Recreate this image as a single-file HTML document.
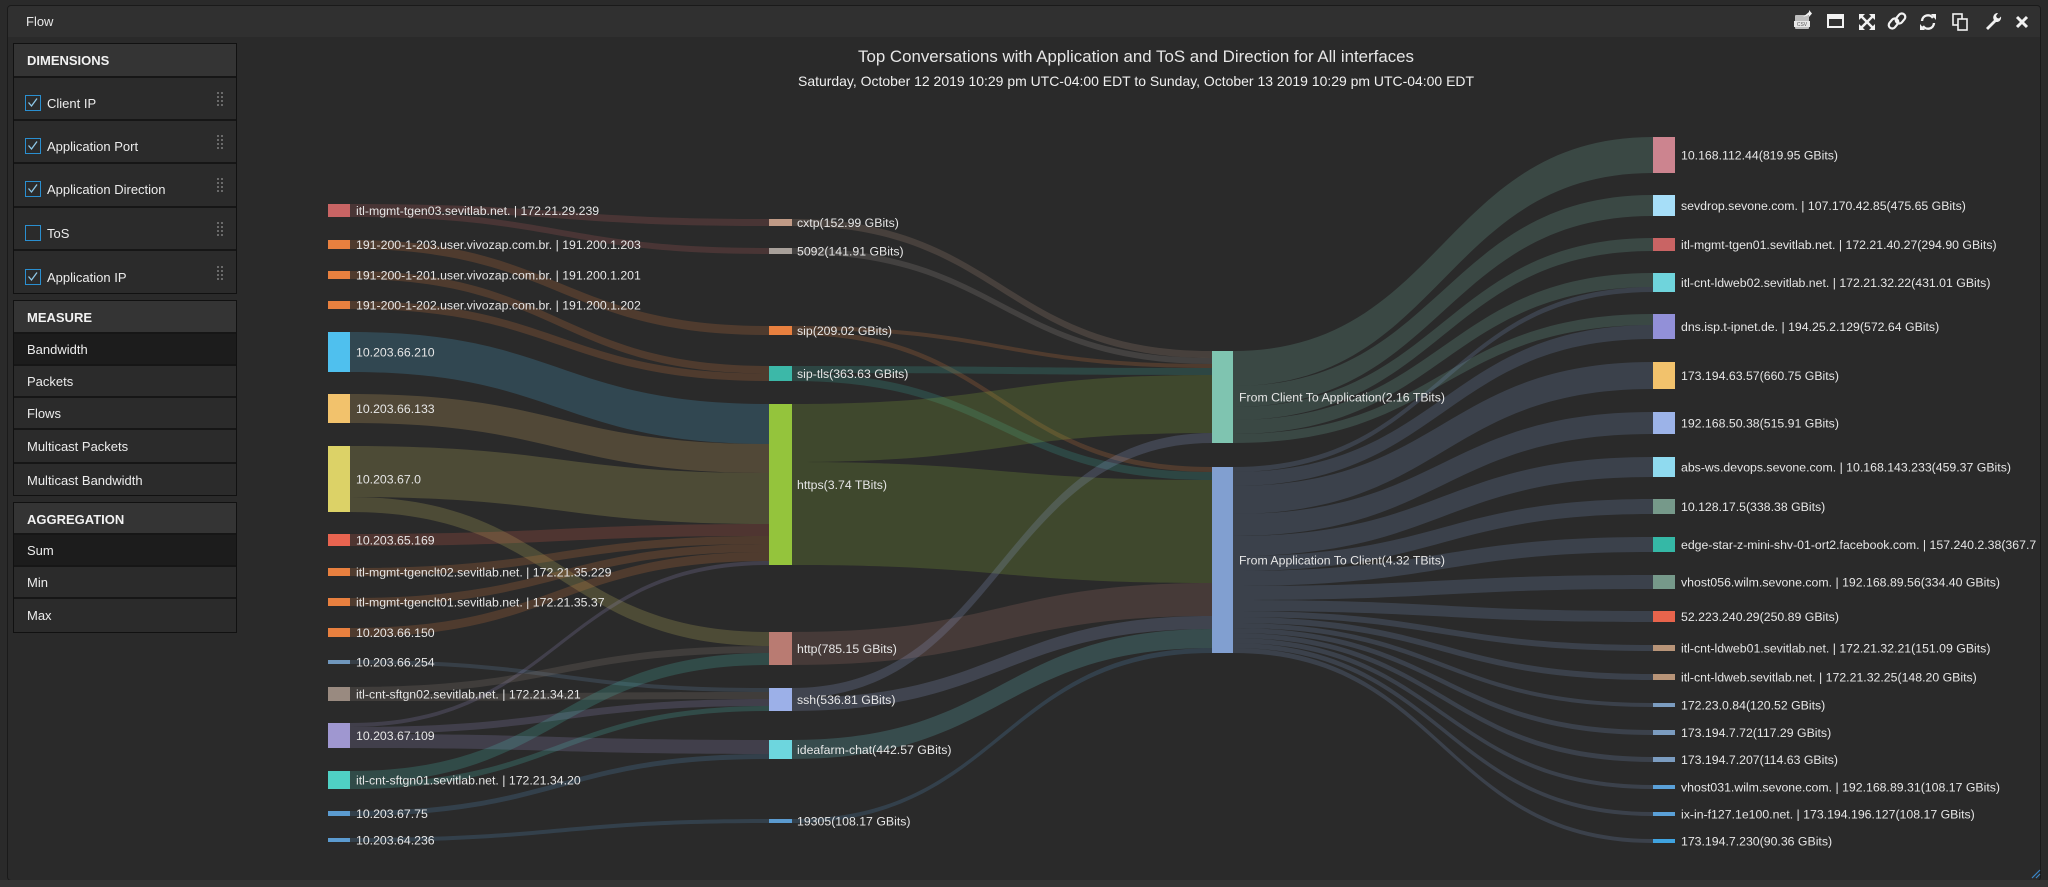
<!DOCTYPE html>
<html>
<head>
<meta charset="utf-8">
<style>
  html,body{margin:0;padding:0;}
  body{width:2048px;height:887px;background:#2a2a2a;position:relative;overflow:hidden;font-family:"Liberation Sans",sans-serif;}
  *{box-sizing:border-box;}
  .panel{position:absolute;left:7px;top:5px;width:2034px;height:876px;border:1px solid #1a1a1a;border-radius:4px;background:#2a2a2a;overflow:hidden;}
  .hdr{position:absolute;left:0;top:0;width:2032px;height:31px;background:#303030;}
  .hdr span{position:absolute;left:18px;top:8px;font-size:13px;color:#e8e8e8;}
  .foot{position:absolute;left:0;top:880px;width:2048px;height:7px;background:#343434;}
  .box{position:absolute;left:13px;width:224px;border:1px solid #111;background:#2b2b2b;overflow:hidden;}
  .bh{position:absolute;left:0;width:222px;background:#343434;color:#f2f2f2;font-weight:bold;font-size:13px;}
  .bh span{position:absolute;left:13px;}
  .row{position:absolute;left:0;width:222px;background:#2b2b2b;border-top:2px solid #161616;color:#ececec;font-size:13px;}
  .row.sel{background:#1c1c1c;}
  .row span{position:absolute;left:13px;}
  .cb{position:absolute;left:11px;width:16px;height:16px;border:1.5px solid #2a8fd0;}
  .cb svg{position:absolute;left:0;top:0;}
  .dr{position:absolute;left:203px;width:6px;height:14px;}
  .dr i{position:absolute;width:1.6px;height:1.6px;background:#6a6a6a;}
  svg text{font-family:"Liberation Sans",sans-serif;}
</style>
</head>
<body>
<div class="panel">
  <div class="hdr"><span>Flow</span></div>
</div>
<div class="foot"></div>

<!-- DIMENSIONS -->
<div class="box" style="top:43px;height:251px;">
  <div class="bh" style="top:0;height:32px;"><span style="top:9px;">DIMENSIONS</span></div>
  <div class="row" style="top:32px;height:43px;">
    <div class="cb" style="top:17px;"><svg width="13" height="13"><path d="M2.5 6.5 L5.5 10 L11 2.5" stroke="#8fc8e8" stroke-width="1.3" fill="none"/></svg></div>
    <span style="left:33px;top:18px;">Client IP</span>
    <div class="dr" style="top:14px;"><i style="left:0;top:0"></i><i style="left:4px;top:0"></i><i style="left:0;top:4px"></i><i style="left:4px;top:4px"></i><i style="left:0;top:8px"></i><i style="left:4px;top:8px"></i><i style="left:0;top:12px"></i><i style="left:4px;top:12px"></i></div>
  </div>
  <div class="row" style="top:75px;height:43px;">
    <div class="cb" style="top:17px;"><svg width="13" height="13"><path d="M2.5 6.5 L5.5 10 L11 2.5" stroke="#8fc8e8" stroke-width="1.3" fill="none"/></svg></div>
    <span style="left:33px;top:18px;">Application Port</span>
    <div class="dr" style="top:14px;"><i style="left:0;top:0"></i><i style="left:4px;top:0"></i><i style="left:0;top:4px"></i><i style="left:4px;top:4px"></i><i style="left:0;top:8px"></i><i style="left:4px;top:8px"></i><i style="left:0;top:12px"></i><i style="left:4px;top:12px"></i></div>
  </div>
  <div class="row" style="top:118px;height:44px;">
    <div class="cb" style="top:17px;"><svg width="13" height="13"><path d="M2.5 6.5 L5.5 10 L11 2.5" stroke="#8fc8e8" stroke-width="1.3" fill="none"/></svg></div>
    <span style="left:33px;top:18px;">Application Direction</span>
    <div class="dr" style="top:14px;"><i style="left:0;top:0"></i><i style="left:4px;top:0"></i><i style="left:0;top:4px"></i><i style="left:4px;top:4px"></i><i style="left:0;top:8px"></i><i style="left:4px;top:8px"></i><i style="left:0;top:12px"></i><i style="left:4px;top:12px"></i></div>
  </div>
  <div class="row" style="top:162px;height:43px;">
    <div class="cb" style="top:17px;"></div>
    <span style="left:33px;top:18px;">ToS</span>
    <div class="dr" style="top:14px;"><i style="left:0;top:0"></i><i style="left:4px;top:0"></i><i style="left:0;top:4px"></i><i style="left:4px;top:4px"></i><i style="left:0;top:8px"></i><i style="left:4px;top:8px"></i><i style="left:0;top:12px"></i><i style="left:4px;top:12px"></i></div>
  </div>
  <div class="row" style="top:205px;height:44px;">
    <div class="cb" style="top:18px;"><svg width="13" height="13"><path d="M2.5 6.5 L5.5 10 L11 2.5" stroke="#8fc8e8" stroke-width="1.3" fill="none"/></svg></div>
    <span style="left:33px;top:19px;">Application IP</span>
    <div class="dr" style="top:15px;"><i style="left:0;top:0"></i><i style="left:4px;top:0"></i><i style="left:0;top:4px"></i><i style="left:4px;top:4px"></i><i style="left:0;top:8px"></i><i style="left:4px;top:8px"></i><i style="left:0;top:12px"></i><i style="left:4px;top:12px"></i></div>
  </div>
</div>

<!-- MEASURE -->
<div class="box" style="top:300px;height:196px;">
  <div class="bh" style="top:0;height:32px;"><span style="top:9px;">MEASURE</span></div>
  <div class="row sel" style="top:31px;height:32px;"><span style="top:8px;">Bandwidth</span></div>
  <div class="row" style="top:63px;height:32px;"><span style="top:8px;">Packets</span></div>
  <div class="row" style="top:95px;height:32px;"><span style="top:8px;">Flows</span></div>
  <div class="row" style="top:127px;height:34px;"><span style="top:9px;">Multicast Packets</span></div>
  <div class="row" style="top:161px;height:34px;"><span style="top:9px;">Multicast Bandwidth</span></div>
</div>

<!-- AGGREGATION -->
<div class="box" style="top:502px;height:131px;">
  <div class="bh" style="top:0;height:31px;"><span style="top:9px;">AGGREGATION</span></div>
  <div class="row sel" style="top:30px;height:32px;"><span style="top:8px;">Sum</span></div>
  <div class="row" style="top:62px;height:32px;"><span style="top:8px;">Min</span></div>
  <div class="row" style="top:94px;height:35px;"><span style="top:9px;">Max</span></div>
</div>

<svg width="2048" height="887" style="position:absolute;left:0;top:0;" xmlns="http://www.w3.org/2000/svg">
  <defs>
    <clipPath id="cc"><rect x="240" y="38" width="1796" height="842"/></clipPath>
  </defs>

  <!-- toolbar icons -->
  <g fill="#f2f2f2" stroke="none">
    <rect x="1795" y="15" width="14" height="14" rx="1" fill="#bdbdbd"/>
    <rect x="1794" y="21" width="16" height="6" fill="#e8e8e8"/>
    <text x="1802" y="26" font-size="5" text-anchor="middle" fill="#555">CSV</text>
    <path d="M1803 17 L1809 12 L1809 10 L1812 13.5 L1809 17 L1809 15 Z" fill="#f2f2f2"/>
    <rect x="1828" y="15" width="15" height="12" fill="none" stroke="#f2f2f2" stroke-width="2"/>
    <rect x="1828" y="15" width="15" height="4"/>
    <g stroke="#f2f2f2" stroke-width="2.4" stroke-linecap="square">
      <line x1="1861" y1="16" x2="1873" y2="28"/>
      <line x1="1873" y1="16" x2="1861" y2="28"/>
    </g>
    <path d="M1859 14 h6 l-6 6z M1875 14 v6 l-6 -6z M1859 30 v-6 l6 6z M1875 30 h-6 l6 -6z"/>
    <g fill="none" stroke="#f2f2f2" stroke-width="2.2">
      <rect x="1890" y="18" width="7" height="11" rx="3.5" transform="rotate(40 1893.5 23.5)"/>
      <rect x="1897" y="13" width="7" height="11" rx="3.5" transform="rotate(40 1900.5 18.5)"/>
    </g>
    <g fill="none" stroke="#f2f2f2" stroke-width="2.4">
      <path d="M1922 21 A6 6 0 0 1 1933 18"/>
      <path d="M1934 23 A6 6 0 0 1 1923 26"/>
    </g>
    <path d="M1931 14 L1936 14 L1936 20 Z"/>
    <path d="M1925 30 L1920 30 L1920 24 Z"/>
    <g fill="none" stroke="#f2f2f2" stroke-width="1.6">
      <rect x="1953" y="14" width="9" height="11"/>
      <rect x="1958" y="19" width="9" height="11" fill="#2f2f2f"/>
    </g>
    <path d="M1986 28 L1994 20 A4.5 4.5 0 0 1 1998 13 L1996 16 L1997 18 L1999 18.5 L2001 16.5 A4.5 4.5 0 0 1 1996 22 L1988 30 Z"/>
    <g stroke="#f2f2f2" stroke-width="3">
      <line x1="2017" y1="17" x2="2027" y2="27"/>
      <line x1="2027" y1="17" x2="2017" y2="27"/>
    </g>
  </g>

  <g stroke="#3a86c8" stroke-width="1.2">
    <line x1="2032" y1="878" x2="2040" y2="870"/>
    <line x1="2036" y1="878" x2="2040" y2="874"/>
  </g>

  <text x="1136" y="62" font-size="17" fill="#e6e6e6" text-anchor="middle" textLength="556" lengthAdjust="spacingAndGlyphs">Top Conversations with Application and ToS and Direction for All interfaces</text>
  <text x="1136" y="86" font-size="14" fill="#f0f0f0" text-anchor="middle" textLength="676" lengthAdjust="spacingAndGlyphs">Saturday, October 12 2019 10:29 pm UTC-04:00 EDT to Sunday, October 13 2019 10:29 pm UTC-04:00 EDT</text>

  <g clip-path="url(#cc)">
  <g fill-opacity="0.2">
    <path fill="#c86464" d="M350 204 C559.5 204 559.5 219 769 219 L769 226 C559.5 226 559.5 211 350 211Z"/>
    <path fill="#c86464" d="M350 211 C559.5 211 559.5 248 769 248 L769 254 C559.5 254 559.5 217 350 217Z"/>
    <path fill="#e8803f" d="M350 240 C559.5 240 559.5 326 769 326 L769 335 C559.5 335 559.5 249 350 249Z"/>
    <path fill="#e8803f" d="M350 271 C559.5 271 559.5 366 769 366 L769 373.5 C559.5 373.5 559.5 279 350 279Z"/>
    <path fill="#e8803f" d="M350 301 C559.5 301 559.5 373.5 769 373.5 L769 381 C559.5 381 559.5 309 350 309Z"/>
    <path fill="#4fc0ee" d="M350 332 C559.5 332 559.5 404 769 404 L769 444 C559.5 444 559.5 372 350 372Z"/>
    <path fill="#f2c26c" d="M350 394 C559.5 394 559.5 444 769 444 L769 473 C559.5 473 559.5 423 350 423Z"/>
    <path fill="#dcd267" d="M350 446 C559.5 446 559.5 473 769 473 L769 524 C559.5 524 559.5 497 350 497Z"/>
    <path fill="#dcd267" d="M350 497 C559.5 497 559.5 632 769 632 L769 646 C559.5 646 559.5 512 350 512Z"/>
    <path fill="#e86450" d="M350 534 C559.5 534 559.5 524 769 524 L769 536 C559.5 536 559.5 546 350 546Z"/>
    <path fill="#e8803f" d="M350 568 C559.5 568 559.5 536 769 536 L769 544 C559.5 544 559.5 576 350 576Z"/>
    <path fill="#e8803f" d="M350 598 C559.5 598 559.5 544 769 544 L769 552 C559.5 552 559.5 606 350 606Z"/>
    <path fill="#e8803f" d="M350 628 C559.5 628 559.5 552 769 552 L769 561 C559.5 561 559.5 637 350 637Z"/>
    <path fill="#9f97d0" d="M350 723 C559.5 723 559.5 561 769 561 L769 565 C559.5 565 559.5 727 350 727Z"/>
    <path fill="#7097bd" d="M350 660 C559.5 660 559.5 688 769 688 L769 692 C559.5 692 559.5 664 350 664Z"/>
    <path fill="#998a80" d="M350 687 C559.5 687 559.5 646 769 646 L769 653 C559.5 653 559.5 694 350 694Z"/>
    <path fill="#998a80" d="M350 694 C559.5 694 559.5 692 769 692 L769 699 C559.5 699 559.5 701 350 701Z"/>
    <path fill="#9f97d0" d="M350 727 C559.5 727 559.5 699 769 699 L769 706 C559.5 706 559.5 734 350 734Z"/>
    <path fill="#9f97d0" d="M350 734 C559.5 734 559.5 740 769 740 L769 754 C559.5 754 559.5 748 350 748Z"/>
    <path fill="#4fd0c4" d="M350 771 C559.5 771 559.5 653 769 653 L769 665 C559.5 665 559.5 783 350 783Z"/>
    <path fill="#4fd0c4" d="M350 783 C559.5 783 559.5 706 769 706 L769 711 C559.5 711 559.5 789 350 789Z"/>
    <path fill="#5b9bd0" d="M350 811 C559.5 811 559.5 754 769 754 L769 759 C559.5 759 559.5 816 350 816Z"/>
    <path fill="#5b9bd0" d="M350 838 C559.5 838 559.5 819 769 819 L769 823 C559.5 823 559.5 842 350 842Z"/>
  </g>

  <g fill-opacity="0.2">
    <path fill="#c09a86" d="M792 219 C1002 219 1002 351 1212 351 L1212 358 C1002 358 1002 226 792 226Z"/>
    <path fill="#a8a09a" d="M792 248 C1002 248 1002 358 1212 358 L1212 364 C1002 364 1002 254 792 254Z"/>
    <path fill="#e8803f" d="M792 326 C1002 326 1002 364 1212 364 L1212 368 C1002 368 1002 330 792 330Z"/>
    <path fill="#e8803f" d="M792 330 C1002 330 1002 467 1212 467 L1212 472 C1002 472 1002 335 792 335Z"/>
    <path fill="#3cb8a8" d="M792 366 C1002 366 1002 368 1212 368 L1212 375 C1002 375 1002 373 792 373Z"/>
    <path fill="#3cb8a8" d="M792 373 C1002 373 1002 472 1212 472 L1212 480 C1002 480 1002 381 792 381Z"/>
    <path fill="#94c43c" d="M792 404 C1002 404 1002 375 1212 375 L1212 433 C1002 433 1002 462 792 462Z"/>
    <path fill="#94c43c" d="M792 462 C1002 462 1002 480 1212 480 L1212 583 C1002 583 1002 565 792 565Z"/>
    <path fill="#b97b72" d="M792 632 C1002 632 1002 583 1212 583 L1212 616 C1002 616 1002 665 792 665Z"/>
    <path fill="#9cb0e8" d="M792 688 C1002 688 1002 433 1212 433 L1212 443 C1002 443 1002 698 792 698Z"/>
    <path fill="#9cb0e8" d="M792 698 C1002 698 1002 616 1212 616 L1212 629 C1002 629 1002 711 792 711Z"/>
    <path fill="#6dd6de" d="M792 740 C1002 740 1002 629 1212 629 L1212 648 C1002 648 1002 759 792 759Z"/>
    <path fill="#5b9bd0" d="M792 819 C1002 819 1002 648 1212 648 L1212 653 C1002 653 1002 823 792 823Z"/>
  </g>

  <g fill-opacity="0.2" fill="#7fc4b0">
    <path d="M1233 351 C1443 351 1443 137 1653 137 L1653 173 C1443 173 1443 386 1233 386Z"/>
    <path d="M1233 386 C1443 386 1443 195 1653 195 L1653 216 C1443 216 1443 407 1233 407Z"/>
    <path d="M1233 407 C1443 407 1443 238 1653 238 L1653 251 C1443 251 1443 420 1233 420Z"/>
    <path d="M1233 420 C1443 420 1443 273 1653 273 L1653 287 C1443 287 1443 434 1233 434Z"/>
    <path d="M1233 434 C1443 434 1443 314 1653 314 L1653 325 C1443 325 1443 443 1233 443Z"/>
  </g>
  <g fill-opacity="0.2" fill="#819fd0">
    <path d="M1233 467 C1443 467 1443 287 1653 287 L1653 292 C1443 292 1443 472 1233 472Z"/>
    <path d="M1233 472 C1443 472 1443 325 1653 325 L1653 339 C1443 339 1443 486 1233 486Z"/>
    <path d="M1233 486 C1443 486 1443 362 1653 362 L1653 389 C1443 389 1443 514 1233 514Z"/>
    <path d="M1233 514 C1443 514 1443 412 1653 412 L1653 434 C1443 434 1443 536 1233 536Z"/>
    <path d="M1233 536 C1443 536 1443 457 1653 457 L1653 477 C1443 477 1443 556 1233 556Z"/>
    <path d="M1233 556 C1443 556 1443 499 1653 499 L1653 514 C1443 514 1443 571 1233 571Z"/>
    <path d="M1233 571 C1443 571 1443 537 1653 537 L1653 552 C1443 552 1443 586 1233 586Z"/>
    <path d="M1233 586 C1443 586 1443 575 1653 575 L1653 589 C1443 589 1443 600 1233 600Z"/>
    <path d="M1233 600 C1443 600 1443 611 1653 611 L1653 622 C1443 622 1443 611 1233 611Z"/>
    <path d="M1233 611 C1443 611 1443 645 1653 645 L1653 651 C1443 651 1443 617 1233 617Z"/>
    <path d="M1233 617 C1443 617 1443 674 1653 674 L1653 680 C1443 680 1443 623 1233 623Z"/>
    <path d="M1233 623 C1443 623 1443 703 1653 703 L1653 707 C1443 707 1443 628 1233 628Z"/>
    <path d="M1233 628 C1443 628 1443 730 1653 730 L1653 735 C1443 735 1443 633 1233 633Z"/>
    <path d="M1233 633 C1443 633 1443 757 1653 757 L1653 762 C1443 762 1443 638 1233 638Z"/>
    <path d="M1233 638 C1443 638 1443 785 1653 785 L1653 789 C1443 789 1443 643 1233 643Z"/>
    <path d="M1233 643 C1443 643 1443 812 1653 812 L1653 816 C1443 816 1443 648 1233 648Z"/>
    <path d="M1233 648 C1443 648 1443 839 1653 839 L1653 843 C1443 843 1443 653 1233 653Z"/>
  </g>

  <g>
    <rect x="328" y="204" width="22" height="13" fill="#c86464"/>
    <rect x="328" y="240" width="22" height="9" fill="#e8803f"/>
    <rect x="328" y="271" width="22" height="8" fill="#e8803f"/>
    <rect x="328" y="301" width="22" height="8" fill="#e8803f"/>
    <rect x="328" y="332" width="22" height="40" fill="#4fc0ee"/>
    <rect x="328" y="394" width="22" height="29" fill="#f2c26c"/>
    <rect x="328" y="446" width="22" height="66" fill="#dcd267"/>
    <rect x="328" y="534" width="22" height="12" fill="#e86450"/>
    <rect x="328" y="568" width="22" height="8" fill="#e8803f"/>
    <rect x="328" y="598" width="22" height="8" fill="#e8803f"/>
    <rect x="328" y="628" width="22" height="9" fill="#e8803f"/>
    <rect x="328" y="660" width="22" height="4" fill="#7097bd"/>
    <rect x="328" y="687" width="22" height="14" fill="#998a80"/>
    <rect x="328" y="723" width="22" height="25" fill="#9f97d0"/>
    <rect x="328" y="771" width="22" height="18" fill="#4fd0c4"/>
    <rect x="328" y="811" width="22" height="5" fill="#5b9bd0"/>
    <rect x="328" y="838" width="22" height="4" fill="#5b9bd0"/>
  </g>
  <g>
    <rect x="769" y="219" width="23" height="7" fill="#c09a86"/>
    <rect x="769" y="248" width="23" height="6" fill="#a8a09a"/>
    <rect x="769" y="326" width="23" height="9" fill="#e8803f"/>
    <rect x="769" y="366" width="23" height="15" fill="#3cb8a8"/>
    <rect x="769" y="404" width="23" height="161" fill="#94c43c"/>
    <rect x="769" y="632" width="23" height="33" fill="#b97b72"/>
    <rect x="769" y="688" width="23" height="23" fill="#9cb0e8"/>
    <rect x="769" y="740" width="23" height="19" fill="#6dd6de"/>
    <rect x="769" y="819" width="23" height="4" fill="#5b9bd0"/>
  </g>
  <rect x="1212" y="351" width="21" height="92" fill="#7fc4b0"/>
  <rect x="1212" y="467" width="21" height="186" fill="#819fd0"/>
  <g>
    <rect x="1653" y="137" width="22" height="36" fill="#cc848f"/>
    <rect x="1653" y="195" width="22" height="21" fill="#a6def8"/>
    <rect x="1653" y="238" width="22" height="13" fill="#c96464"/>
    <rect x="1653" y="273" width="22" height="19" fill="#6fd4dc"/>
    <rect x="1653" y="314" width="22" height="25" fill="#9290d8"/>
    <rect x="1653" y="362" width="22" height="27" fill="#f2c26c"/>
    <rect x="1653" y="412" width="22" height="22" fill="#9cb3e8"/>
    <rect x="1653" y="457" width="22" height="20" fill="#8fdaef"/>
    <rect x="1653" y="499" width="22" height="15" fill="#76998a"/>
    <rect x="1653" y="537" width="22" height="15" fill="#35b8a6"/>
    <rect x="1653" y="575" width="22" height="14" fill="#76998a"/>
    <rect x="1653" y="611" width="22" height="11" fill="#e8644c"/>
    <rect x="1653" y="645" width="22" height="6" fill="#b89478"/>
    <rect x="1653" y="674" width="22" height="6" fill="#b89478"/>
    <rect x="1653" y="703" width="22" height="4" fill="#7b9cc0"/>
    <rect x="1653" y="730" width="22" height="5" fill="#7b9cc0"/>
    <rect x="1653" y="757" width="22" height="5" fill="#7b9cc0"/>
    <rect x="1653" y="785" width="22" height="4" fill="#5aa0d8"/>
    <rect x="1653" y="812" width="22" height="4" fill="#5aa0d8"/>
    <rect x="1653" y="839" width="22" height="4" fill="#3fa3e0"/>
  </g>

  <g font-size="12.3" fill="#e6e6e6">
    <text x="356" y="210.5" dy=".35em">itl-mgmt-tgen03.sevitlab.net. | 172.21.29.239</text>
    <text x="356" y="244.5" dy=".35em">191-200-1-203.user.vivozap.com.br. | 191.200.1.203</text>
    <text x="356" y="275" dy=".35em">191-200-1-201.user.vivozap.com.br. | 191.200.1.201</text>
    <text x="356" y="305" dy=".35em">191-200-1-202.user.vivozap.com.br. | 191.200.1.202</text>
    <text x="356" y="352" dy=".35em">10.203.66.210</text>
    <text x="356" y="408.5" dy=".35em">10.203.66.133</text>
    <text x="356" y="479" dy=".35em">10.203.67.0</text>
    <text x="356" y="540" dy=".35em">10.203.65.169</text>
    <text x="356" y="572" dy=".35em">itl-mgmt-tgenclt02.sevitlab.net. | 172.21.35.229</text>
    <text x="356" y="602" dy=".35em">itl-mgmt-tgenclt01.sevitlab.net. | 172.21.35.37</text>
    <text x="356" y="632.5" dy=".35em">10.203.66.150</text>
    <text x="356" y="662" dy=".35em">10.203.66.254</text>
    <text x="356" y="694" dy=".35em">itl-cnt-sftgn02.sevitlab.net. | 172.21.34.21</text>
    <text x="356" y="735.5" dy=".35em">10.203.67.109</text>
    <text x="356" y="780" dy=".35em">itl-cnt-sftgn01.sevitlab.net. | 172.21.34.20</text>
    <text x="356" y="813.5" dy=".35em">10.203.67.75</text>
    <text x="356" y="840" dy=".35em">10.203.64.236</text>

    <text x="797" y="222.5" dy=".35em">cxtp(152.99 GBits)</text>
    <text x="797" y="251" dy=".35em">5092(141.91 GBits)</text>
    <text x="797" y="330.5" dy=".35em">sip(209.02 GBits)</text>
    <text x="797" y="373.5" dy=".35em">sip-tls(363.63 GBits)</text>
    <text x="797" y="484.5" dy=".35em">https(3.74 TBits)</text>
    <text x="797" y="648.5" dy=".35em">http(785.15 GBits)</text>
    <text x="797" y="699.5" dy=".35em">ssh(536.81 GBits)</text>
    <text x="797" y="749.5" dy=".35em">ideafarm-chat(442.57 GBits)</text>
    <text x="797" y="821" dy=".35em">19305(108.17 GBits)</text>

    <text x="1239" y="397" dy=".35em">From Client To Application(2.16 TBits)</text>
    <text x="1239" y="560" dy=".35em">From Application To Client(4.32 TBits)</text>

    <text x="1681" y="155" dy=".35em">10.168.112.44(819.95 GBits)</text>
    <text x="1681" y="205.5" dy=".35em">sevdrop.sevone.com. | 107.170.42.85(475.65 GBits)</text>
    <text x="1681" y="244.5" dy=".35em">itl-mgmt-tgen01.sevitlab.net. | 172.21.40.27(294.90 GBits)</text>
    <text x="1681" y="282.5" dy=".35em">itl-cnt-ldweb02.sevitlab.net. | 172.21.32.22(431.01 GBits)</text>
    <text x="1681" y="326.5" dy=".35em">dns.isp.t-ipnet.de. | 194.25.2.129(572.64 GBits)</text>
    <text x="1681" y="375.5" dy=".35em">173.194.63.57(660.75 GBits)</text>
    <text x="1681" y="423" dy=".35em">192.168.50.38(515.91 GBits)</text>
    <text x="1681" y="467" dy=".35em">abs-ws.devops.sevone.com. | 10.168.143.233(459.37 GBits)</text>
    <text x="1681" y="506.5" dy=".35em">10.128.17.5(338.38 GBits)</text>
    <text x="1681" y="544.5" dy=".35em">edge-star-z-mini-shv-01-ort2.facebook.com. | 157.240.2.38(367.72 GBits)</text>
    <text x="1681" y="582" dy=".35em">vhost056.wilm.sevone.com. | 192.168.89.56(334.40 GBits)</text>
    <text x="1681" y="616.5" dy=".35em">52.223.240.29(250.89 GBits)</text>
    <text x="1681" y="648" dy=".35em">itl-cnt-ldweb01.sevitlab.net. | 172.21.32.21(151.09 GBits)</text>
    <text x="1681" y="677" dy=".35em">itl-cnt-ldweb.sevitlab.net. | 172.21.32.25(148.20 GBits)</text>
    <text x="1681" y="705" dy=".35em">172.23.0.84(120.52 GBits)</text>
    <text x="1681" y="732.5" dy=".35em">173.194.7.72(117.29 GBits)</text>
    <text x="1681" y="759.5" dy=".35em">173.194.7.207(114.63 GBits)</text>
    <text x="1681" y="787" dy=".35em">vhost031.wilm.sevone.com. | 192.168.89.31(108.17 GBits)</text>
    <text x="1681" y="814" dy=".35em">ix-in-f127.1e100.net. | 173.194.196.127(108.17 GBits)</text>
    <text x="1681" y="841" dy=".35em">173.194.7.230(90.36 GBits)</text>
  </g>
  </g>
</svg>
</body>
</html>
